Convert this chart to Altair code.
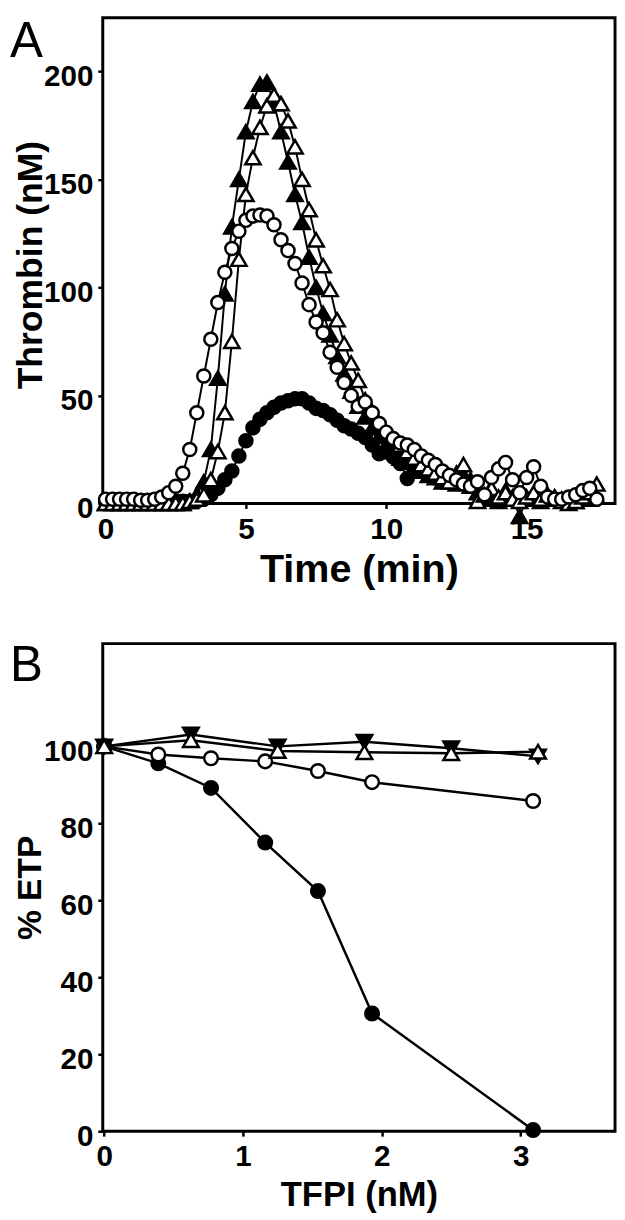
import altair as alt
import pandas as pd

# ---------------- Panel A data (thrombin generation curves) ----------------
time_min = [0, 0.25, 0.5, 0.75, 1, 1.25, 1.5, 1.75, 2, 2.25, 2.5, 2.75, 3, 3.25, 3.5, 3.75,
            4, 4.25, 4.5, 4.75, 5, 5.25, 5.5, 5.75, 6, 6.25, 6.5, 6.75, 7, 7.25, 7.5, 7.75,
            8, 8.25, 8.5, 8.75, 9, 9.25, 9.5, 9.75, 10, 10.25, 10.5, 10.75, 11, 11.25, 11.5, 11.75,
            12, 12.25, 12.5, 12.75, 13, 13.25, 13.5, 13.75, 14, 14.25, 14.5, 14.75, 15, 15.25, 15.5, 15.75,
            16, 16.25, 16.5, 16.75, 17, 17.25, 17.5]

open_circles = [2, 2, 2, 2, 2, 1.5, 1.5, 2, 3, 5, 8, 14, 25, 42, 59, 76,
                93, 107, 118, 126, 131, 133, 133.5, 133, 129, 122, 117, 111, 102, 92, 84, 79,
                70, 63, 56, 50, 45, 47, 42, 37, 33, 30, 28, 27, 25, 22, 20, 18,
                15, 13, 11, 9, 8, 10, 4, 12, 16, 19, 11, 5, 12, 17, 8, 3,
                2, 2, 3, 4, 6, 7, 2]

filled_triangles = [0, 0, 0, 0, 0, 0, 0, 0, 0, 0, 0, 0, 1, 4, 10, 25,
                    58, 97, 128, 150, 172, 186, 194, 195, 185, 172, 158, 143, 130, 114, 100, 88,
                    78, 68, 60, 52, 45, 40, 35, 31, 27, 24, 21, 19, 17, 15, 13, 12,
                    10, 11, 9, 13, 11, 5, 2, 4, 1, 6, 3, -6, 2, 4, 1, 2,
                    3, 2, 2, 1, 4, 2, 3]

open_triangles = [0, 0, 0, 0, 0, 0, 0, 0, 0, 0, 0, 0, 1, 2, 4, 11,
                  24, 42, 75, 113, 143, 160, 174, 184, 189, 185, 177, 165, 150, 136, 122, 110,
                  99, 85, 74, 65, 57, 48, 42, 37, 33, 30, 27, 24, 21, 18, 16, 14,
                  12, 10, 14, 18, 8, 1, 4, 7, 3, 5, 2, 1, 3, 5, 2, 4,
                  3, 1, 0, 1, 3, 5, 9]

filled_circles = [1, 1, 1, 1, 1, 1, 1, 1, 1, 1, 1, 1, 1, 1, 2, 4,
                  7, 11, 15, 22, 29, 35, 39, 42, 44.5, 46.5, 47.5, 48.5, 48.5, 46.5, 44, 43,
                  41, 38.5, 36, 34.5, 32.5, 30.5, 27, 23, 24.5, 21.5, 18.5, 11.5, 16]

# ---------------- Panel B data (% ETP vs TFPI) ----------------
tfpi_circles = [0, 0.39, 0.77, 1.16, 1.54, 1.93, 3.09]
etp_filled_circles = [100, 95.6, 89.2, 75.0, 62.4, 30.6, 0.3]
etp_open_circles = [100, 97.9, 96.9, 96.1, 93.6, 90.7, 85.8]
tfpi_triangles = [0, 0.625, 1.25, 1.875, 2.5, 3.125]
etp_filled_down = [100, 103.1, 100.0, 101.2, 99.5, 97.4]
etp_open_up = [100, 101.6, 98.8, 98.5, 98.2, 98.6]

FONT = "Liberation Sans"

STYLES_A = {
    "fc": dict(shape="circle", fill="black", size=175),
    "ft": dict(shape="triangle-up", fill="black", size=240),
    "ot": dict(shape="triangle-up", fill="white", size=240),
    "oc": dict(shape="circle", fill="white", size=175),
}
STYLES_B = {
    "fc": dict(shape="circle", fill="black", size=190),
    "oc": dict(shape="circle", fill="white", size=190),
    "fd": dict(shape="triangle-down", fill="black", size=250),
    "ot": dict(shape="triangle-up", fill="white", size=250),
}


def series_layers(df, xfield, yfield, xenc, yenc, st, lw):
    base = alt.Chart(df)
    line = base.mark_line(color="black", strokeWidth=lw).encode(x=xenc, y=yenc)
    pts = base.mark_point(shape=st["shape"], filled=True, fill=st["fill"], stroke="black",
                          strokeWidth=2.5, size=st["size"], opacity=1).encode(
        x=alt.X(f"{xfield}:Q"), y=alt.Y(f"{yfield}:Q"))
    return [line, pts]


# ---------------- Panel A ----------------
WA, HA = 519, 492
xA = alt.X("t:Q", scale=alt.Scale(domain=[-0.1, 18.15], nice=False, zero=False),
           axis=alt.Axis(values=[0, 5, 10, 15], format="d", title="Time (min)",
                         titleY=67, titleBaseline="middle", titleFontSize=40, labelPadding=7))
yA = alt.Y("v:Q", scale=alt.Scale(domain=[0, 224.7], nice=False, zero=False),
           axis=alt.Axis(values=[0, 50, 100, 150, 200], format="d", title="Thrombin (nM)",
                         titleX=-62, titleY=250, titleAngle=270, titleBaseline="alphabetic",
                         titleAlign="center", titleFontSize=36, labelOffset=5, labelPadding=5))

dfs_A = {
    "fc": pd.DataFrame({"t": time_min[:len(filled_circles)], "v": filled_circles}),
    "ft": pd.DataFrame({"t": time_min, "v": filled_triangles}),
    "ot": pd.DataFrame({"t": time_min, "v": open_triangles}),
    "oc": pd.DataFrame({"t": time_min, "v": open_circles}),
}
layers_A = []
for k in ["fc", "ft", "ot", "oc"]:
    layers_A += series_layers(dfs_A[k], "t", "v", xA, yA, STYLES_A[k], 2)

label_A = alt.Chart(pd.DataFrame({"lab": ["A"]})).mark_text(
    font=FONT, fontSize=50, fontWeight="normal", align="left", baseline="top", color="black"
).encode(x=alt.value(-94), y=alt.value(0), text="lab:N")

panelA = alt.layer(*layers_A, label_A).properties(width=WA, height=HA)

# ---------------- Panel B ----------------
WB, HB = 519, 494
xB = alt.X("x:Q", scale=alt.Scale(domain=[-0.01, 3.68], nice=False, zero=False),
           axis=alt.Axis(values=[0, 1, 2, 3], format="d", title="TFPI (nM)",
                         titleY=64, titleBaseline="middle", titleFontSize=35, labelPadding=6))
yB = alt.Y("y:Q", scale=alt.Scale(domain=[0, 126.7], nice=False, zero=False),
           axis=alt.Axis(values=[0, 20, 40, 60, 80, 100], format="d", title="% ETP",
                         titleX=-63, titleY=HB / 2, titleAngle=270, titleBaseline="alphabetic",
                         titleAlign="center", titleFontSize=34, labelOffset=5, labelPadding=5))

dfs_B = {
    "fc": pd.DataFrame({"x": tfpi_circles, "y": etp_filled_circles}),
    "oc": pd.DataFrame({"x": tfpi_circles, "y": etp_open_circles}),
    "fd": pd.DataFrame({"x": tfpi_triangles, "y": etp_filled_down}),
    "ot": pd.DataFrame({"x": tfpi_triangles, "y": etp_open_up}),
}
layers_B = []
for k in ["fc", "oc", "fd", "ot"]:
    layers_B += series_layers(dfs_B[k], "x", "y", xB, yB, STYLES_B[k], 2.5)

label_B = alt.Chart(pd.DataFrame({"lab": ["B"]})).mark_text(
    font=FONT, fontSize=50, fontWeight="normal", align="left", baseline="top", color="black"
).encode(x=alt.value(-94), y=alt.value(-2), text="lab:N")

panelB = alt.layer(*layers_B, label_B).properties(width=WB, height=HB)

chart = alt.vconcat(panelA, panelB, spacing=49).properties(padding=0).configure_view(
    stroke="black", strokeWidth=3
).configure_axis(
    grid=False, domain=False, ticks=True, tickColor="black", tickWidth=2.5, tickSize=5,
    labelFont=FONT, labelFontSize=30, labelFontWeight="bold", labelColor="black",
    labelFlush=False, labelOverlap=False,
    titleFont=FONT, titleFontWeight="bold", titleColor="black"
)

chart.save("out.html", embed_options={"renderer": "svg", "actions": False})
